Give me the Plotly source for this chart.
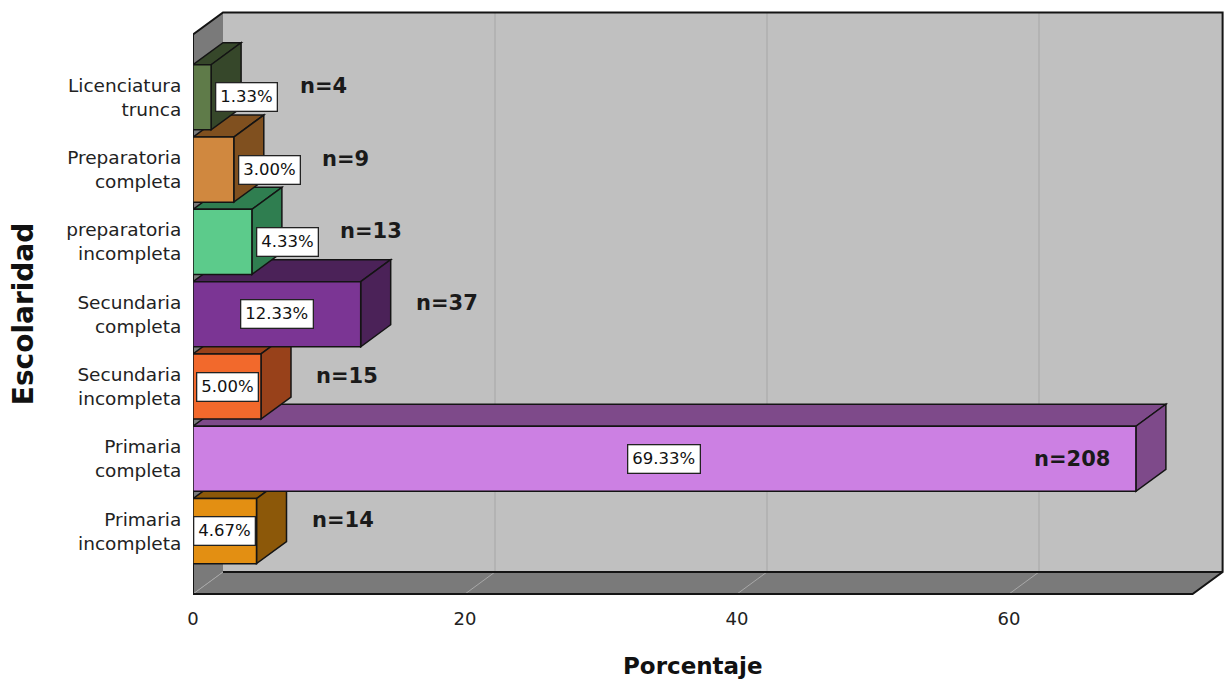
import plotly.graph_objects as go

# ---- data -------------------------------------------------------------
categories = [
    "Primaria<br>incompleta",
    "Primaria<br>completa",
    "Secundaria<br>incompleta",
    "Secundaria<br>completa",
    "preparatoria<br>incompleta",
    "Preparatoria<br>completa",
    "Licenciatura<br>trunca",
]
percentages = [4.67, 69.33, 5.00, 12.33, 4.33, 3.00, 1.33]
counts = [14, 208, 15, 37, 13, 9, 4]
x_ticks = [0, 20, 40, 60]

front_colors = ["#e38f12", "#cc80e3", "#f2692c", "#7b3594", "#5ccb8b", "#d0883f", "#5f7b49"]
shade_colors = ["#8c5809", "#7e4a8a", "#98411a", "#4b2258", "#2f7e50", "#80501f", "#36472a"]

# ---- geometry of the pseudo-3D box -----------------------------------
W, H = 1227, 686
M_L, M_R, M_T, M_B = 193, 2, 4, 88
PX_X = 13.6          # pixels per percentage unit
PX_Y = 72.3          # pixels per category slot
BAR_W = 0.9          # bar thickness in category units
DX = 30 / PX_X       # depth offset, horizontal (data units)
DY = 22 / PX_Y       # depth offset, vertical (data units)
X_FRONT = 73.5       # right end of the front floor edge
Y_LO, Y_HI = -0.87, len(categories) - 1 + 0.87

plot_w = W - M_L - M_R
plot_h = H - M_T - M_B
y_bottom = Y_LO - 4 / PX_Y
x_range = [0, plot_w / PX_X]
y_range = [y_bottom, y_bottom + plot_h / PX_Y]

WALL_BACK = "#c0c0c0"
WALL_SIDE = "#7a7a7a"
EDGE = "#141414"
FONT = "DejaVu Sans"

shapes = []


def poly(points, fill, line_color=EDGE, width=1.5):
    path = "M " + " L ".join(f"{x},{y}" for x, y in points) + " Z"
    shapes.append(dict(type="path", path=path, xref="x", yref="y", layer="below",
                       fillcolor=fill, line=dict(color=line_color, width=width)))


def seg(x0, y0, x1, y1, color, width):
    shapes.append(dict(type="line", x0=x0, y0=y0, x1=x1, y1=y1, xref="x", yref="y",
                       layer="below", line=dict(color=color, width=width)))


# walls and floor
poly([(DX, Y_LO + DY), (X_FRONT + DX, Y_LO + DY), (X_FRONT + DX, Y_HI + DY), (DX, Y_HI + DY)],
     WALL_BACK, line_color="rgba(0,0,0,0)", width=0)
poly([(0, Y_LO), (0, Y_HI), (DX, Y_HI + DY), (DX, Y_LO + DY)],
     WALL_SIDE, line_color="rgba(0,0,0,0)", width=0)
poly([(0, Y_LO), (X_FRONT, Y_LO), (X_FRONT + DX, Y_LO + DY), (DX, Y_LO + DY)],
     WALL_SIDE, line_color="rgba(0,0,0,0)", width=0)

# grid lines on back wall and floor
for v in x_ticks:
    if v > 0:
        seg(v + DX, Y_LO + DY, v + DX, Y_HI + DY, "#a6a6a6", 1)
    seg(v, Y_LO, v + DX, Y_LO + DY, "#a8a8a8", 1)

# box outline
outline = [(0, Y_LO), (0, Y_HI), (DX, Y_HI + DY), (X_FRONT + DX, Y_HI + DY),
           (X_FRONT + DX, Y_LO + DY), (X_FRONT, Y_LO)]
shapes.append(dict(type="path", xref="x", yref="y", layer="below",
                   path="M " + " L ".join(f"{x},{y}" for x, y in outline) + " Z",
                   line=dict(color=EDGE, width=2)))
seg(DX, Y_LO + DY, X_FRONT + DX, Y_LO + DY, EDGE, 2)

# top and side faces of each bar, lowest bar first so upper bars overlap
for i, (v, shade) in enumerate(zip(percentages, shade_colors)):
    bot, top = i - BAR_W / 2, i + BAR_W / 2
    poly([(0, top), (v, top), (v + DX, top + DY), (DX, top + DY)], shade)
    poly([(v, bot), (v, top), (v + DX, top + DY), (v + DX, bot + DY)], shade)

# front faces
fig = go.Figure(go.Bar(
    orientation="h",
    y=list(range(len(categories))),
    x=percentages,
    width=BAR_W,
    marker=dict(color=front_colors, line=dict(color=EDGE, width=1.5)),
    hoverinfo="skip",
))

annotations = []
for i, (v, n) in enumerate(zip(percentages, counts)):
    label = f"{v:.2f}%"
    box_px = len(label) * 9.5 + 12
    inside = v * PX_X >= box_px
    annotations.append(dict(
        x=v / 2 if inside else v, y=i, xref="x", yref="y",
        xanchor="center" if inside else "left", xshift=0 if inside else 4,
        text=label, showarrow=False,
        font=dict(family=FONT, size=16.5, color="#111"),
        bgcolor="white", bordercolor="#222", borderwidth=1.3, borderpad=4,
    ))
    label_end = v if inside else v + (4 + box_px) / PX_X
    start = max(v + DX, label_end)
    n_text = f"n={n}"
    n_px = len(n_text) * 14.6
    n_font = dict(family=FONT, size=21, color="#1a1a1a", weight="bold")
    if (start * PX_X + 25 + n_px) <= X_FRONT * PX_X:
        annotations.append(dict(
            x=start, y=i + DY / 2, xref="x", yref="y", xanchor="left", xshift=23,
            text=n_text, showarrow=False, font=n_font,
        ))
    else:
        annotations.append(dict(
            x=v, y=i, xref="x", yref="y", xanchor="right", xshift=-24,
            text=n_text, showarrow=False, font=n_font,
        ))

# axis titles
annotations.append(dict(
    x=X_FRONT / 2, y=0, xref="x", yref="paper", yanchor="middle", yshift=-68,
    text="Porcentaje", showarrow=False,
    font=dict(family=FONT, size=23, color="#111", weight="bold"),
))
annotations.append(dict(
    x=0, y=(Y_LO + Y_HI) / 2, xref="paper", yref="y", xanchor="center", xshift=-170,
    text="Escolaridad", textangle=-90, showarrow=False,
    font=dict(family=FONT, size=28, color="#111", weight="bold"),
))

fig.update_layout(
    width=W, height=H,
    margin=dict(l=M_L, r=M_R, t=M_T, b=M_B),
    paper_bgcolor="white", plot_bgcolor="white",
    showlegend=False,
    shapes=shapes,
    annotations=annotations,
    xaxis=dict(range=x_range, tickvals=x_ticks, ticktext=[str(t) for t in x_ticks],
               showgrid=False, zeroline=False, showline=False,
               ticks="outside", ticklen=4, tickcolor="rgba(0,0,0,0)",
               tickfont=dict(family=FONT, size=18, color="#222")),
    yaxis=dict(range=y_range, tickvals=list(range(len(categories))), ticktext=categories,
               showgrid=False, zeroline=False, showline=False,
               ticks="outside", ticklen=7, tickcolor="rgba(0,0,0,0)",
               tickfont=dict(family=FONT, size=18.5, color="#222")),
)

fig.write_html("out.html")
